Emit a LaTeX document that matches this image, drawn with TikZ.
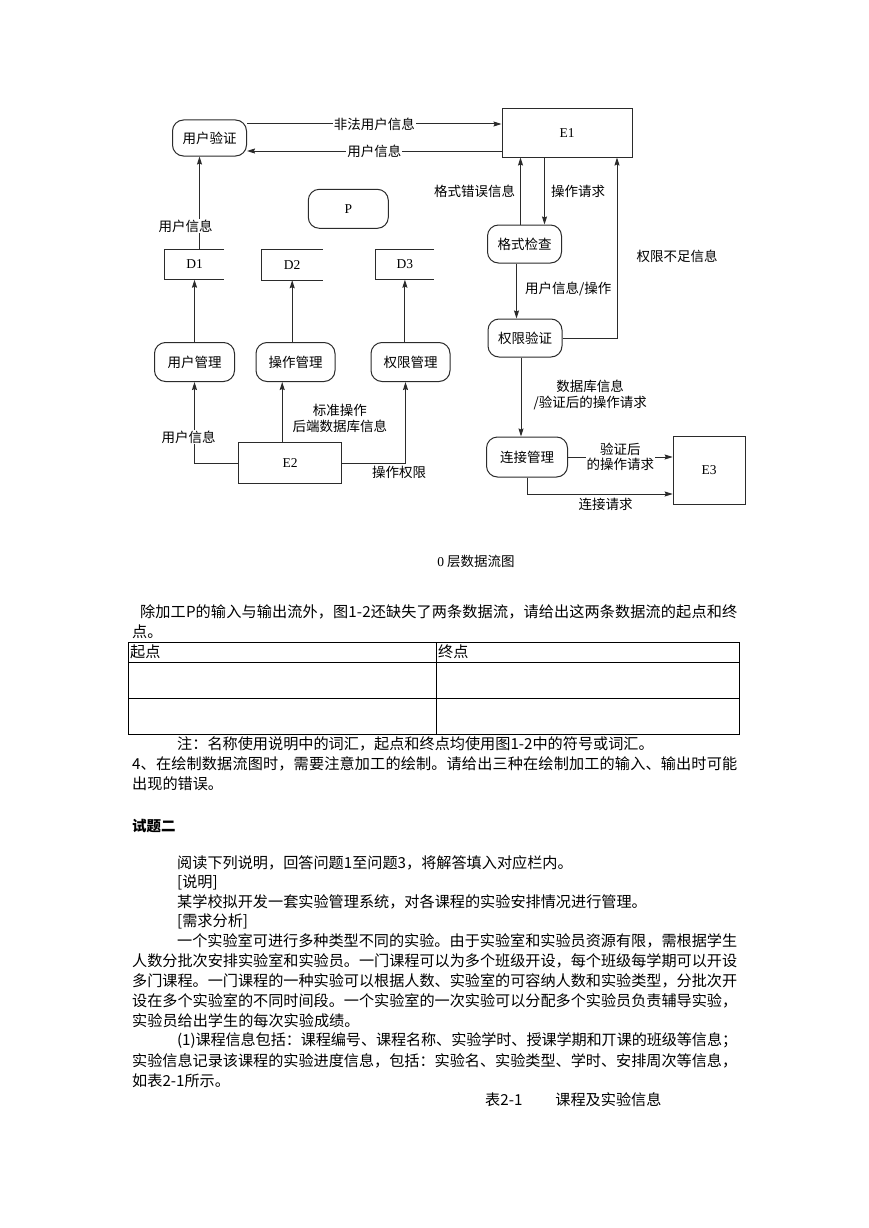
\documentclass[tikz,border=0pt]{standalone}
\usepackage{fontspec}
\usepackage{tikz}
\usetikzlibrary{arrows.meta}
\setmainfont{Liberation Serif}
\newfontfamily\cjk{Noto Sans CJK SC}
\definecolor{Ink}{HTML}{2B2B2B}

% one line of text spread to a given width
\def\spreadtext#1#2{\hbox to #1{\spreadfirst#2\relax}}
\def\spreadfirst#1{#1\spreadrest}
\def\spreadrest#1{\ifx#1\relax\else\hskip0pt plus 1fil minus 1fil #1\expandafter\spreadrest\fi}

\tikzset{
  proc/.style={draw=Ink, line width=1pt, rounded corners=11pt, inner sep=0pt, font=\cjk\fontsize{13.5}{15}\selectfont},
  extbox/.style={draw=Ink, line width=1pt, inner sep=0pt, font=\fontsize{13.5}{15}\selectfont},
  store/.style={inner sep=0pt, minimum height=30pt, font=\fontsize{13.5}{15}\selectfont},
  flow/.style={draw=Ink, line width=1pt, -{Stealth[length=8pt,width=5pt,inset=1pt]}},
  lab/.style={font=\cjk\fontsize{13.5}{16}\selectfont, inner sep=1pt, align=center},
  onlab/.style={lab, fill=white},
  body/.style={font=\cjk\fontsize{15.15}{19.8}\selectfont, inner sep=0pt, anchor=west},
}

\begin{document}
\begin{tikzpicture}[x=1pt,y=-1pt]
  \fill[white] (0,0) rectangle (869,1228);
  \useasboundingbox (0,0) rectangle (869,1228);

  % processes
  \node[proc, minimum width=74pt, minimum height=36pt] (yhyz) at (209.5,138) {用户验证};
  \node[proc, minimum width=80pt, minimum height=39pt, font=\fontsize{13.5}{15}\selectfont] (p) at (348.3,208.8) {P};
  \node[proc, minimum width=74pt, minimum height=38pt] (gsjc) at (524.5,244) {格式检查};
  \node[proc, minimum width=74pt, minimum height=38pt] (qxyz) at (525,338) {权限验证};
  \node[proc, minimum width=81pt, minimum height=40pt] (ljgl) at (527,457) {连接管理};
  \node[proc, minimum width=80pt, minimum height=39pt] (yhgl) at (194.5,362) {用户管理};
  \node[proc, minimum width=79pt, minimum height=39pt] (czgl) at (295.5,362) {操作管理};
  \node[proc, minimum width=79pt, minimum height=39pt] (qxgl) at (410.5,362) {权限管理};

  % external entities
  \node[extbox, minimum width=130pt, minimum height=48pt] (e1) at (567,133) {E1};
  \node[extbox, minimum width=103pt, minimum height=40.5pt] (e2) at (290.2,463) {E2};
  \node[extbox, minimum width=72pt, minimum height=68pt] (e3) at (709.2,470.5) {E3};

  % data stores
  \node[store, minimum width=59pt] (d1) at (194.5,264.5) {D1};
  \node[store, minimum width=61pt] (d2) at (292.2,265) {D2};
  \node[store, minimum width=58pt] (d3) at (404.9,264.5) {D3};
  \foreach \d in {d1,d2,d3}
    \draw[Ink, line width=1pt] (\d.north east) -- (\d.north west) -- (\d.south west) -- (\d.south east);

  % flows, top
  \draw[flow] ([yshift=14pt]yhyz.east) -- node[onlab] {非法用户信息} ([yshift=14pt]yhyz.east -| e1.west);
  \draw[flow] ([yshift=-18pt]e1.west) -- node[onlab] {用户信息} ([yshift=-18pt]e1.west -| yhyz.east);
  \draw[flow] ([xshift=5pt]d1.north) -- node[onlab, pos=0.25, xshift=-14pt] {用户信息} ([xshift=5pt]d1.north |- yhyz.south);

  % flows, left
  \draw[flow] (yhgl.north) -- (yhgl.north |- d1.south);
  \draw[flow] (d2.south |- czgl.north) -- (d2.south);
  \draw[flow] (d3.south |- qxgl.north) -- (d3.south);
  \draw[flow] (e2.west) -| node[onlab, pos=0.66, xshift=-6pt] {用户信息} (yhgl.south);
  \draw[flow] ([xshift=-8pt]e2.north) -- node[lab, pos=0.4, anchor=west, xshift=9pt] {标准操作\\后端数据库信息} ([xshift=-8pt]e2.north |- czgl.south);
  \draw[flow] (e2.east) -| node[lab, pos=0.45, anchor=north, yshift=-2pt] {操作权限} ([xshift=-5pt]qxgl.south);

  % flows, right
  \draw[flow] ([xshift=-4pt]gsjc.north) -- node[lab, anchor=east, xshift=-4pt] {格式错误信息} ([xshift=-4pt]gsjc.north |- e1.south);
  \draw[flow] ([xshift=20pt]gsjc.north |- e1.south) -- node[lab, anchor=west, xshift=5pt] {操作请求} ([xshift=20pt]gsjc.north);
  \draw[flow] ([xshift=-8pt]gsjc.south) -- node[lab, pos=0.46, anchor=west, xshift=7pt] {用户信息/操作} ([xshift=-8pt]gsjc.south |- qxyz.north);
  \draw[flow] (qxyz.east) -| node[lab, pos=0.727, anchor=west, xshift=18pt] {权限不足信息} ([xshift=50pt]e1.south);
  \draw[flow] ([xshift=-4pt]qxyz.south) -- node[lab, pos=0.47, anchor=west, xshift=11pt] {数据库信息\\/验证后的操作请求} ([xshift=-4pt]qxyz.south |- ljgl.north);
  \draw[flow] (ljgl.east) -- node[onlab, font=\cjk\fontsize{13.5}{15.5}\selectfont] {验证后\\的操作请求} (ljgl.east -| e3.west);
  \draw[flow] (ljgl.south) |- node[lab, pos=0.77, anchor=north, yshift=-3pt] {连接请求} ([yshift=-23.5pt]e3.west);

  \node[lab] (cap1) at (476,561) {{\rmfamily 0}\hspace{3pt}层数据流图};

  % question text
  \node[body] (t1) at (140,612) {\spreadtext{597pt}{除加工P的输入与输出流外，图1-2还缺失了两条数据流，请给出这两条数据流的起点和终}};
  \node[body] (t2) at (132,632) {点。};

  \draw[black, line width=1pt] (128,642) rectangle (739,734);
  \draw[black, line width=1pt] (128,662) -- (739,662) (128,698) -- (739,698) (436,642) -- (436,734);
  \node[body] (c1) at (130,652) {起点};
  \node[body] (c2) at (438,652) {终点};

  \node[body] (t3) at (177,744) {注：名称使用说明中的词汇，起点和终点均使用图1-2中的符号或词汇。};
  \node[body] (t4) at (132,764) {\spreadtext{605pt}{4、在绘制数据流图时，需要注意加工的绘制。请给出三种在绘制加工的输入、输出时可能}};
  \node[body] (t5) at (132,784) {出现的错误。};

  \node[body, font=\cjk\bfseries\fontsize{14.5}{18}\selectfont] (h2) at (132,826) {试题二};

  \node[body] (s1) at (177,863) {阅读下列说明，回答问题1至问题3，将解答填入对应栏内。};
  \node[body] (s2) at (177,882.5) {[说明]};
  \node[body] (s3) at (177,902) {某学校拟开发一套实验管理系统，对各课程的实验安排情况进行管理。};
  \node[body] (s4) at (177,921.5) {[需求分析]};
  \node[body] (s5) at (177,941) {\spreadtext{560pt}{一个实验室可进行多种类型不同的实验。由于实验室和实验员资源有限，需根据学生}};
  \node[body] (s6) at (132,961) {\spreadtext{605pt}{人数分批次安排实验室和实验员。一门课程可以为多个班级开设，每个班级每学期可以开设}};
  \node[body] (s7) at (132,981) {\spreadtext{605pt}{多门课程。一门课程的一种实验可以根据人数、实验室的可容纳人数和实验类型，分批次开}};
  \node[body] (s8) at (132,1001) {\spreadtext{605pt}{设在多个实验室的不同时间段。一个实验室的一次实验可以分配多个实验员负责辅导实验，}};
  \node[body] (s9) at (132,1021) {实验员给出学生的每次实验成绩。};
  \node[body] (s10) at (177,1041) {\spreadtext{560pt}{(1)课程信息包括：课程编号、课程名称、实验学时、授课学期和丌课的班级等信息；}};
  \node[body] (s11) at (132,1061) {\spreadtext{605pt}{实验信息记录该课程的实验进度信息，包括：实验名、实验类型、学时、安排周次等信息，}};
  \node[body] (s12) at (132,1081) {如表2-1所示。};
  \node[body] (s13) at (485,1100) {表2-1\hspace{33pt}课程及实验信息};
\end{tikzpicture}
\end{document}
